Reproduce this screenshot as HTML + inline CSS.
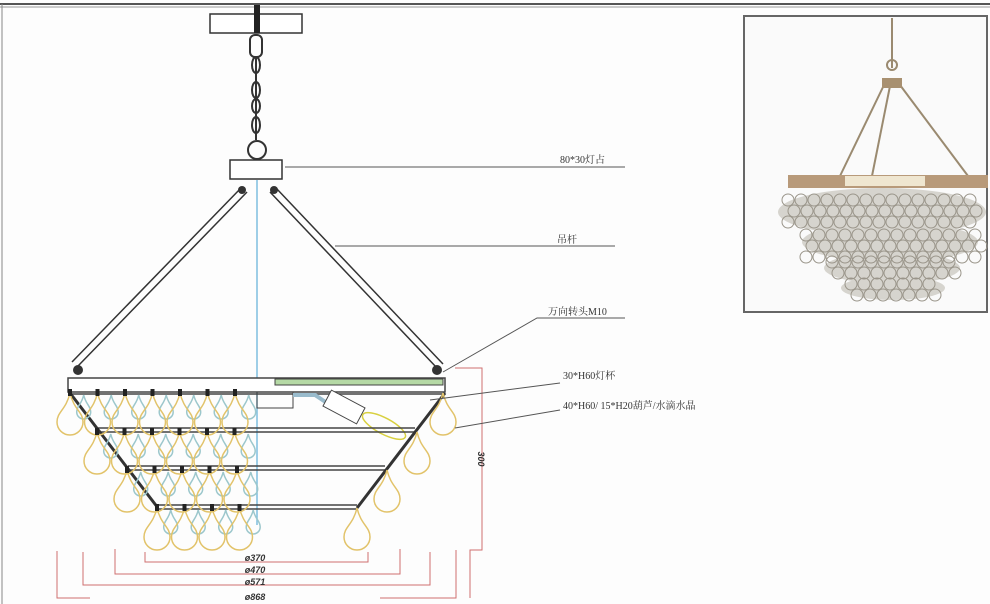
<!DOCTYPE html>
<html><head><meta charset="utf-8"><style>
html,body{margin:0;padding:0;background:#fff;}
svg{display:block;}
text{font-family:"Liberation Serif","Noto Serif CJK SC",serif;}
</style></head><body>
<svg id="s" width="990" height="604" viewBox="0 0 990 604" xmlns="http://www.w3.org/2000/svg">
<rect width="990" height="604" fill="#fdfdfd"/>
<line x1="0" y1="4" x2="990" y2="4" stroke="#555" stroke-width="2"/>
<line x1="0" y1="7" x2="990" y2="7" stroke="#999" stroke-width="1"/>
<line x1="2" y1="4" x2="2" y2="604" stroke="#888" stroke-width="1"/>
<rect x="210" y="14" width="92" height="19" fill="#fff" stroke="#333" stroke-width="1.5"/>
<rect x="254" y="5" width="6" height="28" fill="#222"/>
<g stroke="#333" stroke-width="2" fill="none">
<rect x="250" y="35" width="12" height="22" rx="5"/>
<ellipse cx="256" cy="65" rx="4" ry="8"/>
<ellipse cx="256" cy="90" rx="4" ry="8"/>
<ellipse cx="256" cy="106" rx="4" ry="7"/>
<ellipse cx="256" cy="125" rx="4" ry="8"/>
<line x1="256" y1="56" x2="256" y2="140"/>
<circle cx="257" cy="150" r="9"/>
</g>
<rect x="230" y="160" width="52" height="19" fill="#fff" stroke="#333" stroke-width="1.5"/>
<g stroke="#333" stroke-width="1.5">
<line x1="241" y1="188" x2="72" y2="362"/><line x1="247" y1="192" x2="78" y2="366"/>
<line x1="270" y1="192" x2="437" y2="368"/><line x1="276" y1="188" x2="443" y2="364"/>
</g>
<g fill="#333"><circle cx="242" cy="190" r="4"/><circle cx="274" cy="190" r="4"/><circle cx="78" cy="370" r="5"/><circle cx="437" cy="370" r="5"/></g>
<line x1="257" y1="180" x2="257" y2="525" stroke="#7fbfe0" stroke-width="1.5"/>
<rect x="68" y="378" width="377" height="14" fill="#fff" stroke="#444" stroke-width="1.5"/>
<rect x="275" y="379" width="168" height="6" fill="#b5d9a5" stroke="#444" stroke-width="1"/>
<line x1="68" y1="394" x2="445" y2="394" stroke="#444" stroke-width="1.5"/>
<rect x="257" y="392" width="36" height="16" fill="none" stroke="#444"/>
<path d="M293 395 L315 395 L330 405" stroke="#9bc" stroke-width="4" fill="none"/>
<rect x="325" y="398" width="38" height="18" transform="rotate(28 344 407)" fill="#fff" stroke="#444"/>
<ellipse cx="384" cy="426" rx="24" ry="8" transform="rotate(28 384 426)" fill="none" stroke="#d8d040" stroke-width="1.5"/>
<g stroke="#444" stroke-width="1.5">
<line x1="98" y1="428" x2="415" y2="428"/><line x1="98" y1="432" x2="415" y2="432"/>
<line x1="128" y1="466" x2="385" y2="466"/><line x1="128" y1="470" x2="385" y2="470"/>
<line x1="158" y1="505" x2="357" y2="505"/><line x1="158" y1="509" x2="357" y2="509"/>
</g>
<g stroke="#333" stroke-width="3">
<line x1="70" y1="393" x2="158" y2="508"/><line x1="445" y1="393" x2="357" y2="508"/>
</g>
<g id="drops"></g>
<g stroke="#d07070" stroke-width="1" fill="none">
<path d="M145 552 V562 H368 V552"/>
<path d="M115 549 V574 H400 V549"/>
<path d="M83 552 V585 H430 V552"/>
<path d="M57 551 V598 H90 M380 598 H456 V550"/>
<path d="M455 368 H482 V550 H470 V598"/>
</g>
<g font-size="9" font-style="italic" font-weight="bold" fill="#333" text-anchor="middle">
<text x="255" y="561" style="font-family:'Liberation Sans',sans-serif">ø370</text>
<text x="255" y="573" style="font-family:'Liberation Sans',sans-serif">ø470</text>
<text x="255" y="585" style="font-family:'Liberation Sans',sans-serif">ø571</text>
<text x="255" y="600" style="font-family:'Liberation Sans',sans-serif">ø868</text>
<text x="0" y="0" transform="translate(478 459) rotate(90)" style="font-family:'Liberation Sans',sans-serif">300</text>
</g>
<g stroke="#555" stroke-width="1" fill="none">
<line x1="285" y1="167" x2="625" y2="167"/>
<line x1="335" y1="246" x2="615" y2="246"/>
<path d="M443 372 L537 318 H625"/>
<line x1="430" y1="400" x2="560" y2="383"/>
<line x1="455" y1="428" x2="560" y2="410"/>
</g>
<g font-size="10" fill="#333">
<text x="560" y="163">80*30灯占</text>
<text x="557" y="243">吊杆</text>
<text x="548" y="315">万向转头M10</text>
<text x="563" y="379">30*H60灯杯</text>
<text x="563" y="409">40*H60/  15*H20葫芦/水滴水晶</text>
</g>
<rect x="744" y="16" width="243" height="296" fill="#fafafa" stroke="#666" stroke-width="2"/>
<g stroke="#9a8a70" stroke-width="2" fill="none">
<line x1="892" y1="18" x2="892" y2="68"/>
<circle cx="892" cy="65" r="5"/>
<line x1="884" y1="85" x2="840" y2="176"/><line x1="890" y1="86" x2="872" y2="176"/><line x1="900" y1="85" x2="968" y2="176"/>
</g>
<rect x="882" y="78" width="20" height="10" fill="#a89070"/>
<rect x="788" y="175" width="200" height="13" fill="#b89a7a"/>
<rect x="845" y="176" width="80" height="10" fill="#efe6d0"/>
<g fill="#d6d4ce">
<ellipse cx="882" cy="212" rx="104" ry="24"/>
<ellipse cx="890" cy="242" rx="88" ry="20"/>
<ellipse cx="892" cy="268" rx="68" ry="16"/>
<ellipse cx="893" cy="288" rx="52" ry="12"/>
</g>
<g id="bub" fill="none" stroke="#9a958a" stroke-width="1"></g>
</svg>
<script>
var ns="http://www.w3.org/2000/svg";
function drop(g,x,y,w,h,c){var p=document.createElementNS(ns,"path");
var r=w/2;p.setAttribute("d","M"+x+" "+y+" C"+(x+r*0.3)+" "+(y+h*0.4)+" "+(x+r)+" "+(y+h*0.45)+" "+(x+r)+" "+(y+h-r)+" A"+r+" "+r+" 0 0 1 "+(x-r)+" "+(y+h-r)+" C"+(x-r)+" "+(y+h*0.45)+" "+(x-r*0.3)+" "+(y+h*0.4)+" "+x+" "+y+"Z");
p.setAttribute("fill","none");p.setAttribute("stroke",c);p.setAttribute("stroke-width","1.5");g.appendChild(p);}
var g=document.getElementById("drops");
var rows=[[70,393,8],[97,432,6],[127,470,5],[157,508,4]];
rows.forEach(function(r){for(var i=0;i<r[2]+1;i++){var x=r[0]+i*27.5;if(x>250)break;
 if(i<r[2]) drop(g,x+13.7,r[1]+2,14,24,"#9cc7cc");
 drop(g,x,r[1],26,42,"#e2c36a");
 var b=document.createElementNS(ns,"rect");b.setAttribute("x",x-2);b.setAttribute("y",r[1]-4);b.setAttribute("width",4);b.setAttribute("height",7);b.setAttribute("fill","#222");g.appendChild(b);}});
[[443,393],[417,432],[387,470],[357,508]].forEach(function(p){drop(g,p[0],p[1],26,42,"#e2c36a");});
var bb=document.getElementById("bub");
var tiers=[[782,986,200,3],[800,980,235,3],[826,958,262,2],[845,942,284,2]];
tiers.forEach(function(t){for(var k=0;k<t[3];k++)for(var x=t[0]+6;x<t[1]-4;x+=13){var c=document.createElementNS(ns,"circle");c.setAttribute("cx",x+(k%2)*6);c.setAttribute("cy",t[2]+k*11);c.setAttribute("r",6);bb.appendChild(c);}});
</script>
</body></html>
